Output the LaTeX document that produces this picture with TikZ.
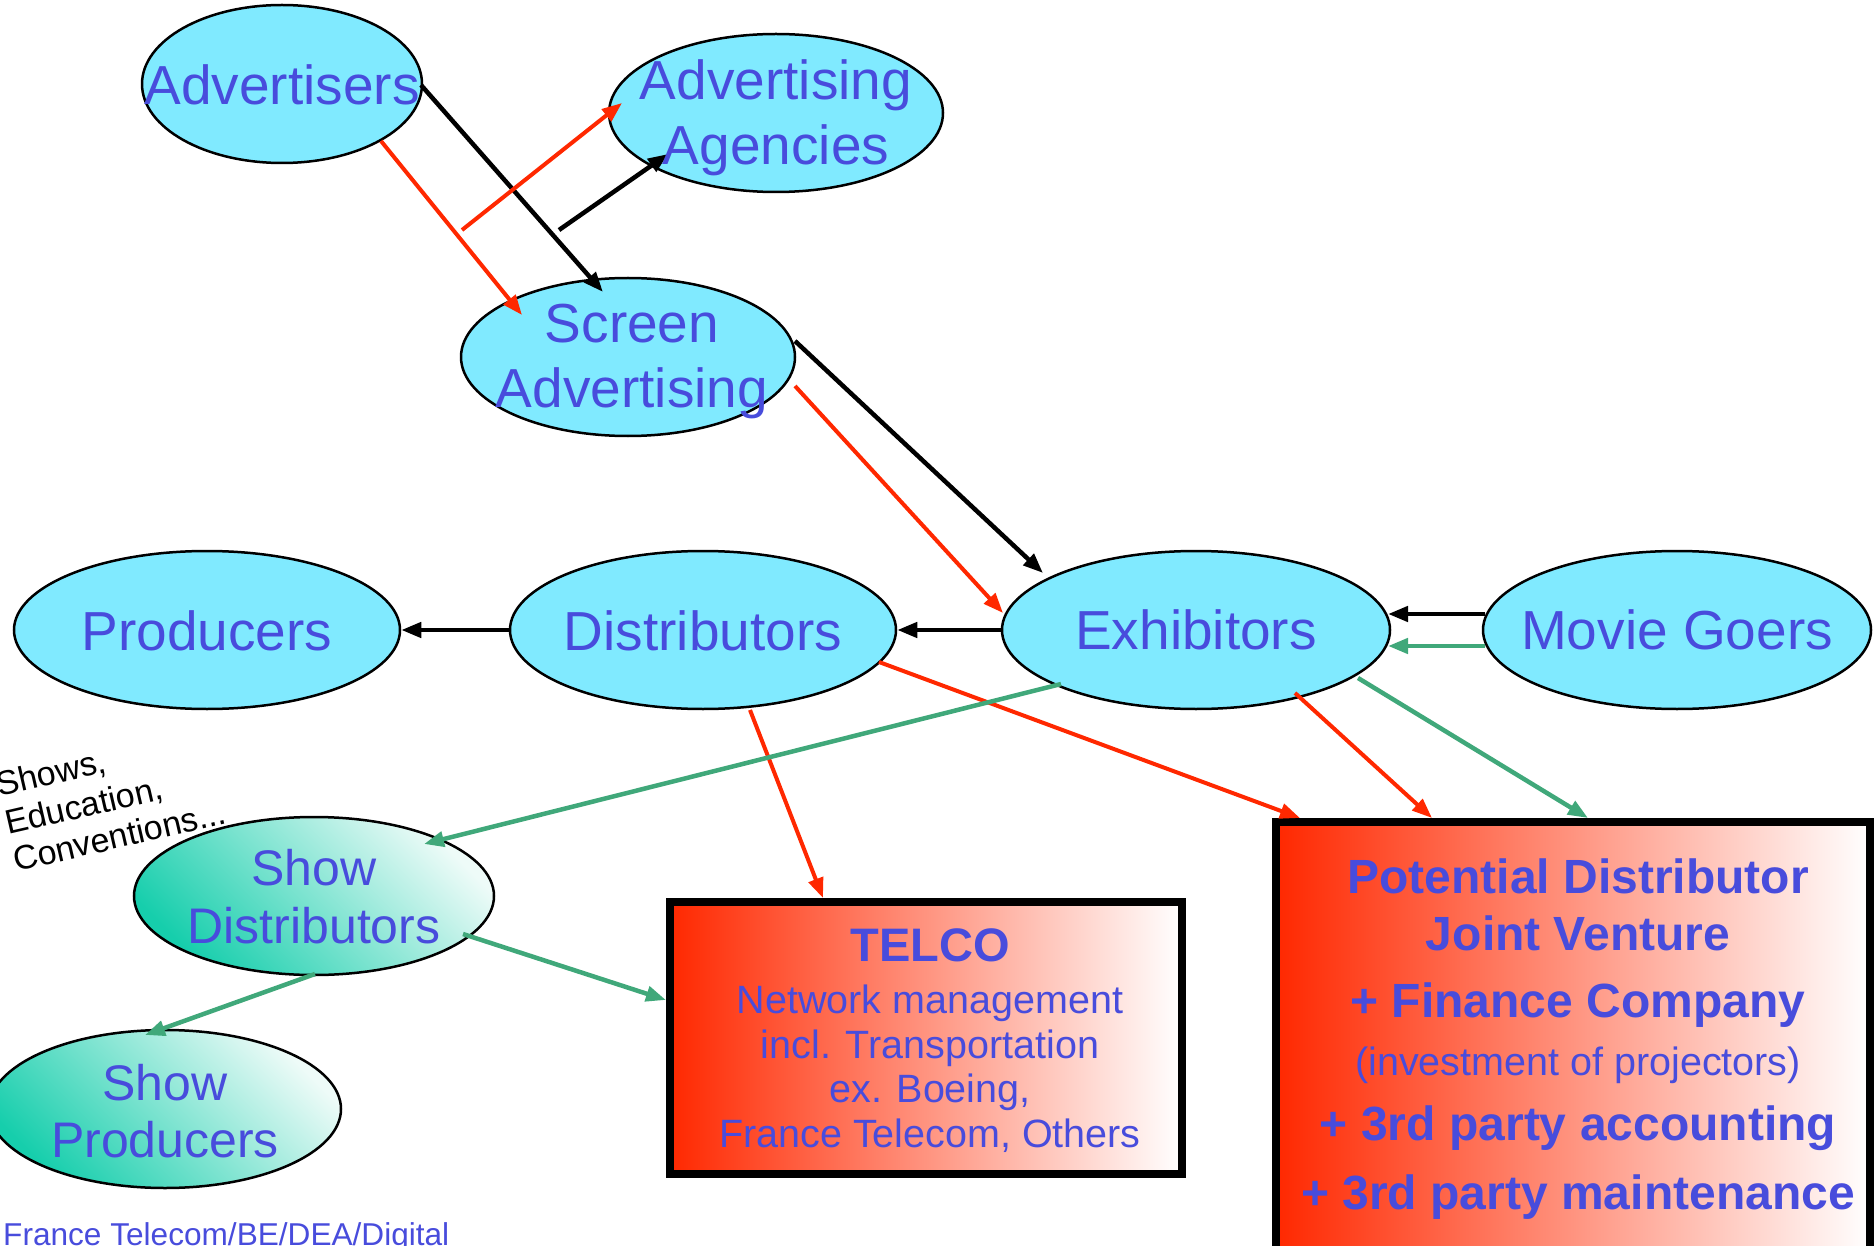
\documentclass[tikz,border=0pt]{standalone}
\usepackage{fontspec}
\setmainfont{Liberation Sans}
\usetikzlibrary{shapes.geometric,arrows.meta,calc}
\definecolor{cyanfill}{RGB}{128,234,255}
\definecolor{tblue}{RGB}{72,76,220}
\definecolor{tred}{RGB}{255,40,0}
\definecolor{tgreen}{RGB}{64,168,122}
\definecolor{tealA}{RGB}{22,206,172}
\definecolor{tealB}{RGB}{238,251,248}
\begin{document}
\begin{tikzpicture}[x=1pt,y=-1pt,
  ell/.style={ellipse, draw=black, line width=2.5pt, fill=cyanfill, inner sep=0pt},
  shell/.style={ellipse, draw=black, line width=2.5pt, inner sep=0pt,
                top color=tealB, bottom color=tealA, shading angle=-45},
  redbox/.style={rectangle, draw=black, line width=8pt, inner sep=0pt,
                 left color=tred, right color=white},
  arr/.style={-{Triangle[length=20pt,width=15pt]}},
  blk/.style={arr, line width=4.5pt, draw=black},
  redl/.style={arr, line width=4pt, draw=tred},
  grn/.style={arr, line width=4.5pt, draw=tgreen},
  etxt/.style={text=tblue, font=\fontsize{55}{64}\selectfont, inner sep=0pt, anchor=base},
  stxt/.style={text=tblue, font=\fontsize{50}{58}\selectfont, inner sep=0pt, anchor=base},
  bt/.style={text=tblue, font=\fontsize{48}{56}\selectfont\bfseries, inner sep=0pt, anchor=base},
  rt/.style={text=tblue, font=\fontsize{39.5}{45}\selectfont, inner sep=0pt, anchor=base},
  note/.style={text=black, font=\fontsize{34}{38}\selectfont, inner sep=0pt, anchor=base west, rotate=13}]
\useasboundingbox (0,0) rectangle (1874,1246);
\clip (0,0) rectangle (1874,1246);

% ellipses
\node[ell, minimum width=280pt, minimum height=158pt] (adv) at (282,84) {};
\node[ell, minimum width=334pt, minimum height=158pt] (agc) at (776,113) {};
\node[ell, minimum width=334pt, minimum height=158pt] (scr) at (628,357) {};
\node[ell, minimum width=386pt, minimum height=158pt] (prod) at (207,630) {};
\node[ell, minimum width=386pt, minimum height=158pt] (dist) at (703,630) {};
\node[ell, minimum width=388pt, minimum height=158pt] (exh) at (1196,630) {};
\node[ell, minimum width=388pt, minimum height=158pt] (mov) at (1677,630) {};
\node[shell, minimum width=360pt, minimum height=158pt] (sdist) at (314,896) {};
\node[shell, minimum width=352pt, minimum height=158pt] (sprod) at (165,1109) {};

% boxes
\node[redbox, minimum width=512pt, minimum height=272pt] (telco) at (926,1038) {};
\node[redbox, minimum width=594pt, minimum height=500pt] (jv) at (1573,1072) {};

% free starts
\coordinate (freeR) at (462,230);
\coordinate (freeB) at (559,230);

% black connectors
\draw[blk] ($(adv)+(139,1)$) -- ($(scr)+(-25,-65)$);
\draw[blk] (freeB) -- ($(agc)+(-108,41)$);
\draw[blk] ($(scr)+(167,-16)$) -- ($(exh)+(-153,-57)$);
\draw[blk] (dist.west) -- (prod.east);
\draw[blk] (exh.west) -- (dist.east);
\draw[blk] ($(mov)+(-192,-16)$) -- ($(exh)+(192,-16)$);
% red connectors
\draw[redl] ($(adv)+(99,57)$) -- ($(scr)+(-106,-42)$);
\draw[redl] (freeR) -- ($(agc)+(-154,-10)$);
\draw[redl] ($(scr)+(167,29)$) -- ($(exh)+(-193,-17)$);
\draw[redl] ($(dist)+(176,32)$) -- ($(jv.north west)+(28,0)$);
\draw[redl] ($(dist)+(47,80)$) -- ($(telco.north west)+(157,0)$);
\draw[redl] ($(exh)+(99,63)$) -- ($(jv.north west)+(160,0)$);
% green connectors
\draw[grn] ($(mov)+(-192,16)$) -- ($(exh)+(192,16)$);
\draw[grn] ($(exh)+(-135,54)$) -- ($(sdist)+(110,-52)$);
\draw[grn] ($(exh)+(162,48)$) -- ($(jv.north west)+(316,0)$);
\draw[grn] ($(sdist)+(149,38)$) -- ($(telco.west)+(0,-38)$);
\draw[grn] ($(sdist)+(1,78)$) -- ($(sprod)+(-20,-74)$);

% ellipse texts
\node[etxt] (advT) at ($(adv)+(0,21)$) {Advertisers};
\node[etxt] (agcT1) at ($(agc)+(0,-13)$) {Advertising};
\node[etxt] (agcT2) at ($(agc)+(0,52)$) {Agencies};
\node[etxt] (scrT1) at ($(scr)+(4,-14)$) {Screen};
\node[etxt] (scrT2) at ($(scr)+(4,50)$) {Advertising};
\node[etxt] (prodT) at ($(prod)+(0,20)$) {Producers};
\node[etxt] (distT) at ($(dist)+(0,20)$) {Distributors};
\node[etxt] (exhT) at ($(exh)+(0,19)$) {Exhibitors};
\node[etxt] (movT) at ($(mov)+(0,19)$) {Movie Goers};
\node[stxt] (sdistT1) at ($(sdist)+(0,-11)$) {Show};
\node[stxt] (sdistT2) at ($(sdist)+(0,47)$) {Distributors};
\node[stxt] (sprodT1) at ($(sprod)+(0,-9)$) {Show};
\node[stxt] (sprodT2) at ($(sprod)+(0,48)$) {Producers};

% TELCO texts
\node[bt, font=\fontsize{47}{54}\selectfont\bfseries] (telT0) at ($(telco)+(4,-77)$) {TELCO};
\node[rt] (telT1) at ($(telco)+(4,-25)$) {Network management};
\node[rt] (telT2) at ($(telco)+(4,20)$) {incl. Transportation};
\node[rt] (telT3) at ($(telco)+(4,64)$) {ex. Boeing,};
\node[rt] (telT4) at ($(telco)+(4,109)$) {France Telecom, Others};

% JV texts
\node[bt] (jvT1) at ($(jv)+(5,-179)$) {Potential Distributor};
\node[bt] (jvT2) at ($(jv)+(5,-122)$) {Joint Venture};
\node[bt] (jvT3) at ($(jv)+(5,-55)$) {+ Finance Company};
\node[rt] (jvT4) at ($(jv)+(5,3)$) {(investment of projectors)};
\node[bt] (jvT5) at ($(jv)+(5,68)$) {+ 3rd party accounting};
\node[bt] (jvT6) at ($(jv)+(5,137)$) {+ 3rd party maintenance};

% side note
\node[note] (n1) at (-1,797) {Shows,};
\node[note] (n2) at (8,835) {Education,};
\node[note] (n3) at (16,872) {Conventions...};

% footer
\node[text=tblue, font=\fontsize{31.6}{36}\selectfont, inner sep=0pt, anchor=base west] (foot) at (3,1245) {France Telecom/BE/DEA/Digital};
\end{tikzpicture}
\end{document}
